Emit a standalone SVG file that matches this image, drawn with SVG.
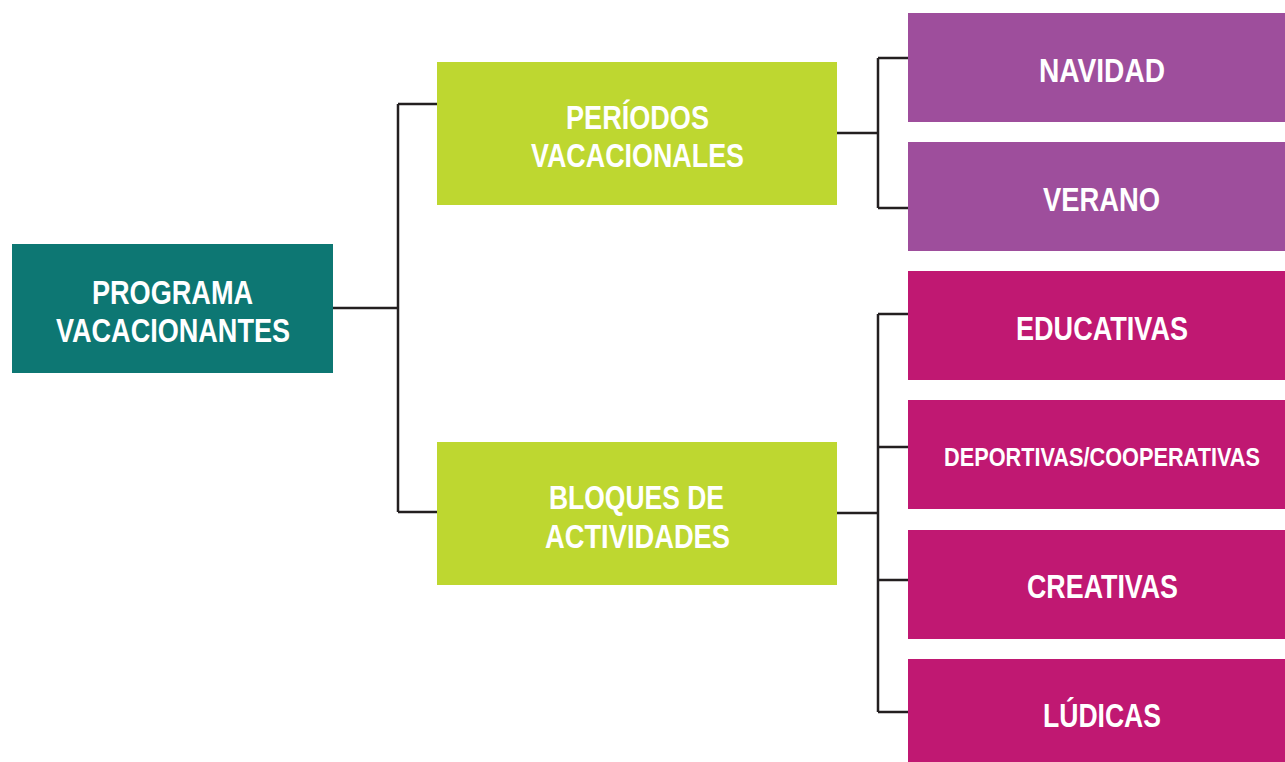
<svg xmlns="http://www.w3.org/2000/svg" width="1285" height="762" viewBox="0 0 1285 762">
<style>
.t{font-family:"Liberation Sans",Arial,sans-serif;font-weight:bold;font-size:34px;fill:#fff;text-anchor:middle}
.s{font-size:21px}
.c{fill:none;stroke:#231f20;stroke-width:2.5}
</style>
<rect width="1285" height="762" fill="#fff"/>
<g id="connectors">
<path class="c" d="M333 308H398M398 104V512M398 104H437M398 512H437"/>
<path class="c" d="M837 133H878M878 58V208M878 58H908M878 208H908"/>
<path class="c" d="M837 513H878M878 314V712M878 314H908M878 447H908M878 580H908M878 712H908"/>
</g>
<g id="root"><rect x="12" y="244" width="321" height="129" fill="#0d7773"/>
<text class="t" x="172.5" y="304" textLength="161" lengthAdjust="spacingAndGlyphs">PROGRAMA</text>
<text class="t" x="173" y="342" textLength="234" lengthAdjust="spacingAndGlyphs">VACACIONANTES</text></g>
<g id="periodos"><rect x="437" y="62" width="400" height="143" fill="#bed730"/>
<text class="t" x="637.5" y="129" textLength="143" lengthAdjust="spacingAndGlyphs">PERÍODOS</text>
<text class="t" x="637.5" y="167" textLength="213" lengthAdjust="spacingAndGlyphs">VACACIONALES</text></g>
<g id="bloques"><rect x="437" y="442" width="400" height="143" fill="#bed730"/>
<text class="t" x="636.5" y="509" textLength="175" lengthAdjust="spacingAndGlyphs">BLOQUES DE</text>
<text class="t" x="637.5" y="548" textLength="185" lengthAdjust="spacingAndGlyphs">ACTIVIDADES</text></g>
<g id="navidad"><rect x="908" y="13" width="377" height="109" fill="#9e4e9c"/>
<text class="t" x="1102" y="82" textLength="126" lengthAdjust="spacingAndGlyphs">NAVIDAD</text></g>
<g id="verano"><rect x="908" y="142" width="377" height="109" fill="#9e4e9c"/>
<text class="t" x="1101.5" y="211" textLength="117" lengthAdjust="spacingAndGlyphs">VERANO</text></g>
<g id="educativas"><rect x="908" y="271" width="377" height="109" fill="#c01872"/>
<text class="t" x="1102" y="340" textLength="172" lengthAdjust="spacingAndGlyphs">EDUCATIVAS</text></g>
<g id="deportivas"><rect x="908" y="400" width="377" height="109" fill="#c01872"/>
<text class="t s" transform="translate(1102 466) scale(1 1.24)" x="0" y="0" textLength="316" lengthAdjust="spacingAndGlyphs">DEPORTIVAS/COOPERATIVAS</text></g>
<g id="creativas"><rect x="908" y="530" width="377" height="109" fill="#c01872"/>
<text class="t" x="1102.5" y="598" textLength="151" lengthAdjust="spacingAndGlyphs">CREATIVAS</text></g>
<g id="ludicas"><rect x="908" y="659" width="377" height="103" fill="#c01872"/>
<text class="t" x="1102" y="727" textLength="118" lengthAdjust="spacingAndGlyphs">LÚDICAS</text></g>
</svg>
